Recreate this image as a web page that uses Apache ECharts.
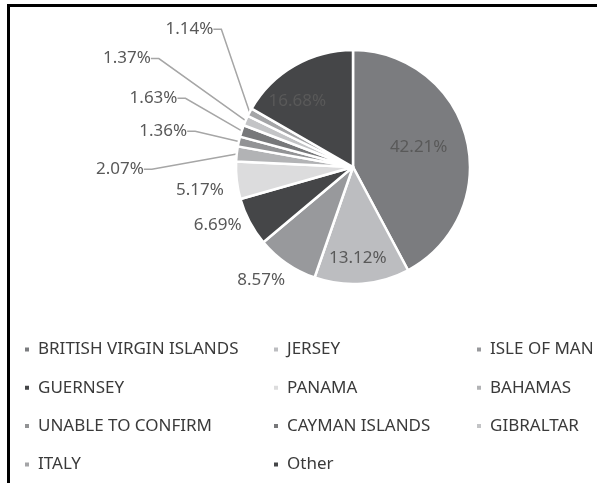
<!DOCTYPE html>
<html>
<head>
<meta charset="utf-8">
<script src="https://cdn.jsdelivr.net/npm/echarts@6/dist/echarts.min.js"></script>
<style>
  html, body { margin: 0; padding: 0; background: #fff; }
  #chart { position: absolute; left: 0; top: 0; width: 597px; height: 483px; }
  #frame {
    position: absolute; left: 7px; top: 4px; width: 600px; height: 500px;
    border-left: 3px solid #000; border-top: 3px solid #000; pointer-events: none;
  }
</style>
</head>
<body>
<div id="chart"></div>
<div id="frame"></div>
<script>
// share of companies by jurisdiction (%)
const categories = [
  'BRITISH VIRGIN ISLANDS', 'JERSEY', 'ISLE OF MAN', 'GUERNSEY', 'PANAMA',
  'BAHAMAS', 'UNABLE TO CONFIRM', 'CAYMAN ISLANDS', 'GIBRALTAR', 'ITALY', 'Other'
];
const values = [42.21, 13.12, 8.57, 6.69, 5.17, 2.07, 1.36, 1.63, 1.37, 1.14, 16.68];

// legend columns (as laid out in the original)
const legendCols = [
  ['BRITISH VIRGIN ISLANDS', 'GUERNSEY', 'UNABLE TO CONFIRM', 'ITALY'],
  ['JERSEY', 'PANAMA', 'CAYMAN ISLANDS', 'Other'],
  ['ISLE OF MAN', 'BAHAMAS', 'GIBRALTAR']
];

const palette = [
  '#7b7c7f', '#bcbdc0', '#98999c', '#454648', '#dcdcdd',
  '#b2b3b5', '#929395', '#77787a', '#c3c4c6', '#a4a5a7', '#454648'
];

// nudges for the three labels drawn inside the big slices
const insideOffsets = {
  'BRITISH VIRGIN ISLANDS': [6, -5],
  'JERSEY': [0, 30],
  'Other': [-25, -13]
};
// nudges [dx, dy] for the outside labels (small ones stacked up-left, like the original)
const labelNudges = {
  'ISLE OF MAN': [8, 10],
  'GUERNSEY': [4, 0],
  'PANAMA': [0, 9],
  'BAHAMAS': [-65, 17],
  'UNABLE TO CONFIRM': [-24, -7],
  'CAYMAN ISLANDS': [-37, -28],
  'GIBRALTAR': [-68, -56],
  'ITALY': [-10, -76]
};

const chart = echarts.init(document.getElementById('chart'), null, { renderer: 'canvas' });

const data = categories.map((name, i) => {
  const v = values[i];
  const item = { name: name, value: v };
  if (v > 10) {
    item.label = { position: 'inside', offset: insideOffsets[name] };
  } else if (v > 3) {
    item.labelLine = { show: false, length: 8, length2: 0 };
  } else {
    item.labelLine = { length: 15, length2: 8 };
  }
  return item;
});

const legendX = [23, 272, 475];
const legends = legendCols.map((col, i) => ({
  data: col,
  orient: 'vertical',
  left: legendX[i],
  top: 341,
  height: 160,
  padding: 0,
  icon: 'rect',
  itemWidth: 6,
  itemHeight: 6,
  itemGap: 21.3,
  selectedMode: false,
  textStyle: {
    fontFamily: 'Noto Sans',
    fontSize: 17,
    lineHeight: 17,
    color: '#3a3a3a',
    padding: [0, 0, 0, 3]
  }
}));

chart.setOption({
  color: palette,
  animation: false,
  legend: legends,
  series: [
    {
      type: 'pie',
      center: [353, 167],
      radius: 117,
      startAngle: 90,
      clockwise: true,
      avoidLabelOverlap: false,
      itemStyle: { borderColor: '#fff', borderWidth: 2.5 },
      label: {
        formatter: p => p.value.toFixed(2) + '%',
        fontFamily: 'Noto Sans',
        fontSize: 17,
        color: '#595959'
      },
      labelLine: {
        length2: 14,
        lineStyle: { color: '#a6a6a6', width: 1.5 }
      },
      labelLayout: function (params) {
        const n = labelNudges[categories[params.dataIndex]];
        if (!n) return;
        const r = params.labelRect;
        return { x: r.x + n[0], y: r.y + n[1], align: 'left', verticalAlign: 'top' };
      },
      data: data
    }
  ]
});
</script>
</body>
</html>
